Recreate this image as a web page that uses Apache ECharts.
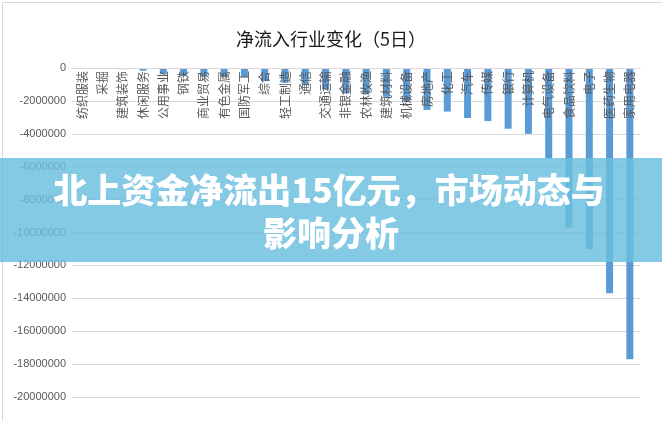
<!DOCTYPE html>
<html><head><meta charset="utf-8">
<script src="https://cdn.jsdelivr.net/npm/echarts@6/dist/echarts.min.js"></script>
<style>html,body{margin:0;padding:0;background:#fff}#c{width:662px;height:421px}</style>
</head><body><div id="c"></div>
<script>
const categories = ['纺织服装','采掘','建筑装饰','休闲服务','公用事业','钢铁','商业贸易','有色金属','国防军工','综合','轻工制造','通信','交通运输','非银金融','农林牧渔','建筑材料','机械设备','房地产','化工','汽车','传媒','银行','计算机','电气设备','食品饮料','电子','医药生物','家用电器'];
const netFlow = [-60000,-60000,-70000,-160000,-380000,-490000,-530000,-540000,-550000,-800000,-900000,-1000000,-1300000,-1550000,-1600000,-1750000,-2050000,-2550000,-2650000,-3040000,-3220000,-3690000,-4000000,-5490000,-9690000,-11020000,-13700000,-17700000];
const yMin = -20000000, yMax = 0, yStep = 2000000;
const titleText = '净流入行业变化（5日）';
const bannerLines = ['北上资金净流出15亿元，市场动态与', '影响分析'];

const gridTop = 68, gridBottom = 24, H = 421;
const chart = echarts.init(document.getElementById('c'), null, {renderer:'canvas'});
chart.setOption({
  animation:false,
  backgroundColor:'#fff',
  title:{text:titleText,left:'center',top:25,textStyle:{fontFamily:'Noto Sans CJK SC',fontSize:18,fontWeight:'normal',color:'#1a1a1a'}},
  grid:{left:72,right:22,top:gridTop,bottom:gridBottom,containLabel:false},
  xAxis:{type:'category',data:categories,z:5,position:'bottom',offset:-(H-gridTop-gridBottom),
    axisLine:{show:true,onZero:false,lineStyle:{color:'#d9d9d9'}},
    axisTick:{show:false},
    axisLabel:{rotate:90,interval:0,margin:3,fontFamily:'Noto Sans CJK SC',fontSize:12,color:'#595959'}},
  yAxis:{type:'value',min:yMin,max:yMax,interval:yStep,
    axisLine:{show:false},axisTick:{show:false},
    axisLabel:{fontFamily:'Liberation Sans',fontSize:11,color:'#595959',margin:6,formatter:v=>String(v)},
    splitLine:{lineStyle:{color:'#d9d9d9'}}},
  series:[{type:'bar',data:netFlow,barWidth:7,itemStyle:{color:'#5b9bd5'}}],
  graphic:[
    {type:'rect',left:0,top:0,z:1,shape:{x:0.5,y:0.5,width:661,height:420},style:{fill:'none',stroke:'#d9d9d9',lineWidth:1},silent:true},
    {type:'rect',z:100,shape:{x:0,y:158,width:662,height:104},style:{fill:'rgba(105,190,222,0.82)'},silent:true},
    {type:'text',z:101,x:329,y:190,style:{text:bannerLines[0],fontFamily:'Noto Sans CJK SC',fontSize:34,fontWeight:900,fill:'#fff',align:'center',verticalAlign:'middle'}},
    {type:'text',z:101,x:331,y:233,style:{text:bannerLines[1],fontFamily:'Noto Sans CJK SC',fontSize:34,fontWeight:900,fill:'#fff',align:'center',verticalAlign:'middle'}}
  ]
});
</script></body></html>
